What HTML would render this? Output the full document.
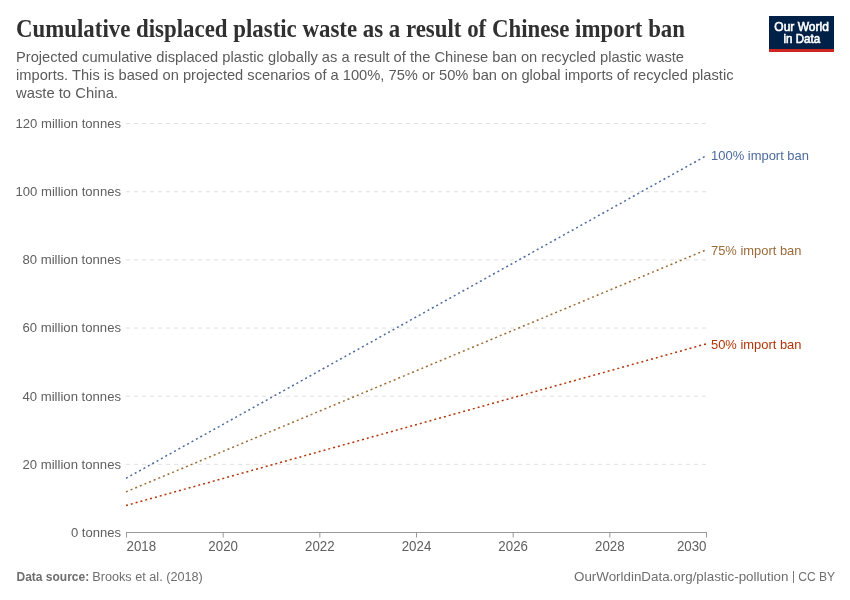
<!DOCTYPE html>
<html>
<head>
<meta charset="utf-8">
<style>
html,body{margin:0;padding:0;background:#fff;}
body{width:850px;height:600px;overflow:hidden;}
svg{display:block;}
text{font-family:"Liberation Sans",sans-serif;}
.serif{font-family:"Liberation Serif",serif;}
</style>
</head>
<body>
<svg width="850" height="600" viewBox="0 0 850 600" style="will-change:transform">
<rect x="0" y="0" width="850" height="600" fill="#fff"/>
<!-- title -->
<text class="serif" x="16" y="37.2" font-size="24.2" font-weight="bold" fill="#303030" textLength="669" lengthAdjust="spacingAndGlyphs">Cumulative displaced plastic waste as a result of Chinese import ban</text>
<!-- subtitle -->
<g font-size="14.4" fill="#5b5b5b">
<text x="16" y="62" textLength="668" lengthAdjust="spacingAndGlyphs">Projected cumulative displaced plastic globally as a result of the Chinese ban on recycled plastic waste</text>
<text x="16" y="80" textLength="717.5" lengthAdjust="spacingAndGlyphs">imports. This is based on projected scenarios of a 100%, 75% or 50% ban on global imports of recycled plastic</text>
<text x="16" y="97.6" textLength="102" lengthAdjust="spacingAndGlyphs">waste to China.</text>
</g>
<!-- logo -->
<rect x="769" y="16" width="65" height="36" fill="#002147"/>
<rect x="769" y="49" width="65" height="3" fill="#ce261e"/>
<g font-size="12.4" fill="#fff" stroke="#fff" stroke-width="0.6" text-anchor="middle">
<text x="801.6" y="30.8" textLength="54.5" lengthAdjust="spacingAndGlyphs">Our World</text>
<text x="801.8" y="42.7" textLength="36.5" lengthAdjust="spacingAndGlyphs">in Data</text>
</g>
<!-- gridlines -->
<g stroke="#e0e0e0" stroke-width="1" stroke-dasharray="4,4" fill="none">
<line x1="126" y1="123.60" x2="706" y2="123.60"/>
<line x1="126" y1="191.75" x2="706" y2="191.75"/>
<line x1="126" y1="259.90" x2="706" y2="259.90"/>
<line x1="126" y1="328.05" x2="706" y2="328.05"/>
<line x1="126" y1="396.20" x2="706" y2="396.20"/>
<line x1="126" y1="464.35" x2="706" y2="464.35"/>
</g>
<!-- y labels -->
<g font-size="13.1" fill="#606060" text-anchor="end">
<text x="121" y="128.00" textLength="105.5" lengthAdjust="spacingAndGlyphs">120 million tonnes</text>
<text x="121" y="196.15" textLength="105.5" lengthAdjust="spacingAndGlyphs">100 million tonnes</text>
<text x="121" y="264.30" textLength="98.5" lengthAdjust="spacingAndGlyphs">80 million tonnes</text>
<text x="121" y="332.45" textLength="98.5" lengthAdjust="spacingAndGlyphs">60 million tonnes</text>
<text x="121" y="400.60" textLength="98.5" lengthAdjust="spacingAndGlyphs">40 million tonnes</text>
<text x="121" y="468.75" textLength="98.5" lengthAdjust="spacingAndGlyphs">20 million tonnes</text>
<text x="121" y="536.90" textLength="50" lengthAdjust="spacingAndGlyphs">0 tonnes</text>
</g>
<!-- x axis -->
<g stroke="#999" stroke-width="1" fill="none">
<line x1="126" y1="532.5" x2="707" y2="532.5"/>
<line x1="126.5" y1="532" x2="126.5" y2="537.5"/>
<line x1="223.17" y1="532" x2="223.17" y2="537.5"/>
<line x1="319.83" y1="532" x2="319.83" y2="537.5"/>
<line x1="416.5" y1="532" x2="416.5" y2="537.5"/>
<line x1="513.17" y1="532" x2="513.17" y2="537.5"/>
<line x1="609.83" y1="532" x2="609.83" y2="537.5"/>
<line x1="706.5" y1="532" x2="706.5" y2="537.5"/>
</g>
<g font-size="13.8" fill="#606060" text-anchor="middle">
<text x="126.5" y="550.7" text-anchor="start" textLength="29.6" lengthAdjust="spacingAndGlyphs">2018</text>
<text x="223.17" y="550.7" textLength="29.6" lengthAdjust="spacingAndGlyphs">2020</text>
<text x="319.83" y="550.7" textLength="29.6" lengthAdjust="spacingAndGlyphs">2022</text>
<text x="416.5" y="550.7" textLength="29.6" lengthAdjust="spacingAndGlyphs">2024</text>
<text x="513.17" y="550.7" textLength="29.6" lengthAdjust="spacingAndGlyphs">2026</text>
<text x="609.83" y="550.7" textLength="29.6" lengthAdjust="spacingAndGlyphs">2028</text>
<text x="706.5" y="550.7" text-anchor="end" textLength="29.6" lengthAdjust="spacingAndGlyphs">2030</text>
</g>
<!-- data lines -->
<g fill="none" stroke-width="1.5" stroke-dasharray="2,3">
<line x1="126" y1="478.3" x2="706.5" y2="155.6" stroke="#4c6a9c"/>
<line x1="126" y1="491.85" x2="706.5" y2="249.7" stroke="#9d6b36"/>
<line x1="126" y1="505.5" x2="706.5" y2="343.8" stroke="#b13507"/>
</g>
<!-- line labels -->
<g font-size="13.4">
<text x="711" y="160.3" fill="#4c6a9c" textLength="98" lengthAdjust="spacingAndGlyphs">100% import ban</text>
<text x="711" y="254.8" fill="#9a6a3a" textLength="90.5" lengthAdjust="spacingAndGlyphs">75% import ban</text>
<text x="711" y="349.1" fill="#b13507" textLength="90.5" lengthAdjust="spacingAndGlyphs">50% import ban</text>
</g>
<!-- footer -->
<g font-size="12" fill="#6e6e6e">
<text x="16.5" y="580.6" font-weight="bold">Data source:</text>
<text x="92.3" y="580.6" textLength="110.5" lengthAdjust="spacingAndGlyphs">Brooks et al. (2018)</text>
<text x="574" y="580.5" font-size="12.4" textLength="214.5" lengthAdjust="spacingAndGlyphs">OurWorldinData.org/plastic-pollution</text>
<rect x="793" y="571" width="1" height="12" fill="#7a7a7a"/>
<text x="798.2" y="580.5" font-size="12.4" textLength="37" lengthAdjust="spacingAndGlyphs">CC BY</text>
</g>
</svg>
</body>
</html>
